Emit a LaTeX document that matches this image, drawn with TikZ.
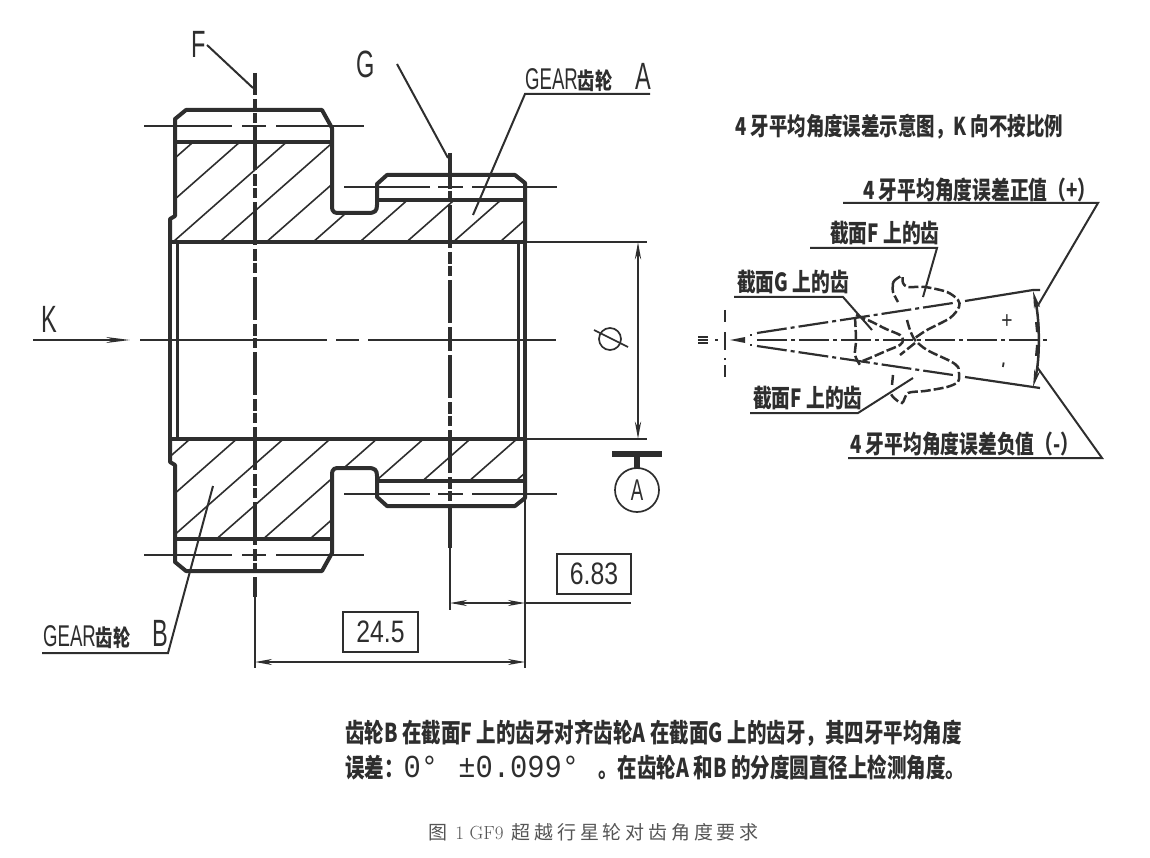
\documentclass[tikz,border=0pt]{standalone}
\usepackage{fontspec}
\usetikzlibrary{arrows.meta}
\newfontfamily\cadfont[FakeStretch=0.62]{Liberation Sans}
\newfontfamily\numfont[FakeStretch=0.8]{Liberation Sans}
\newfontfamily\monofont[FakeStretch=0.9]{Liberation Mono}
\newfontfamily\cjkb[FakeStretch=0.75]{Noto Sans CJK SC}
\newfontfamily\cjkr[LetterSpace=20]{Noto Sans CJK SC}
\definecolor{inkgray}{HTML}{2E2E2E}
\definecolor{capgray}{HTML}{555555}
\tikzset{
  outline/.style={draw=inkgray,line width=4pt,line join=round},
  hatchline/.style={draw=inkgray,line width=1.6pt},
  thinline/.style={draw=inkgray,line width=1.7pt},
  dimline/.style={draw=inkgray,line width=2pt},
  axisline/.style={draw=inkgray,line width=3.2pt,dash pattern=on 43pt off 4pt on 12pt off 2pt on 10pt off 4pt},
  raydash/.style={draw=inkgray,line width=2.2pt,dash pattern=on 30pt off 4pt on 4pt off 4pt},
  toothline/.style={draw=inkgray,line width=2.5pt,dash pattern=on 10pt off 3pt},
  leader/.style={draw=inkgray,line width=2pt},
  dimarrows/.style={{Stealth[length=17pt,width=6pt]}-{Stealth[length=17pt,width=6pt]}},
  lbl/.style={inner sep=0pt,anchor=west,text=inkgray,font=\cjkb\bfseries\fontsize{25}{25}\selectfont},
  bigletter/.style={inner sep=0pt,text=inkgray,font=\cadfont\fontsize{38}{38}\selectfont},
  numbox/.style={draw=inkgray,line width=1.7pt,inner sep=0pt,text=inkgray,font=\numfont\fontsize{31}{31}\selectfont},
  mirrored/.style={shift={(0,681)},yscale=-1}
}
% one half of the section, the other one is mirrored
\newcommand{\hatchbody}[2]{
  \begin{scope}
    \clip (170,242) -- (170,219) -- (175,216) -- (175,142) -- (332,142) -- (332,206)
      .. controls (332,213) and (335,213) .. (340,213) -- (368,213)
      .. controls (375,213) and (377,211) .. (377,205) -- (377,200) -- (525,200) -- (525,242) -- cycle;
    \foreach \k in {-3,...,10}
      \draw[hatchline] ({#1+46.7*\k},242) -- ++(#2,-100);
  \end{scope}
}
\newcommand{\halfbody}{
  % outer profile
  \draw[outline] (170,242) -- (170,219) -- (175,216) -- (175,119) -- (186,110) -- (322,110) -- (332,128) -- (332,206)
    .. controls (332,213) and (335,213) .. (340,213) -- (368,213)
    .. controls (375,213) and (377,211) .. (377,205) -- (377,184) -- (387,175) -- (515,175) -- (525,183) -- (525,242);
  % root lines and bore
  \draw[outline] (175,142) -- (332,142);
  \draw[outline] (377,200) -- (525,200);
  \draw[outline] (170,242) -- (525,242);
  % pitch lines
  \draw[thinline,dash pattern=on 88pt off 10pt on 24pt off 10pt on 90pt] (144,126) -- (364,126);
  \draw[thinline,dash pattern=on 86pt off 8pt on 25pt off 9pt on 85pt] (344,187) -- (557,187);
}
\begin{document}
\begin{tikzpicture}[x=1pt,y=-1pt]
  \useasboundingbox (0,0) rectangle (1150,858);
  % hatching
  \hatchbody{173}{113.6}
  \begin{scope}[mirrored]
    \hatchbody{190}{-113.6}
  \end{scope}
  % body
  \halfbody
  \begin{scope}[mirrored]
    \halfbody
  \end{scope}
  \draw[outline,line width=4.5pt] (170,242) -- (170,439);
  \draw[outline,line width=3pt] (177,242) -- (177,439);
  \draw[outline] (525,242) -- (525,439);
  \draw[outline,line width=3pt] (518,242) -- (518,439);
  % axes
  \draw[axisline,dash phase=21pt] (255,73) -- (255,597);
  \draw[axisline,dash phase=23pt] (450,153) -- (450,548);
  \draw[thinline,line width=2pt,dash pattern=on 187pt off 9pt on 23pt off 9pt on 188pt] (140,340) -- (556,340);
  \draw[thinline,line width=2pt,-{Stealth[length=24pt,width=6pt]}] (33,340) -- (130,340);
  \node[bigletter] (labelK) at (49,319) {K};
  \node[bigletter] (labelF) at (199,44) {F};
  \node[bigletter] (labelG) at (366,64) {G};
  \draw[leader] (207,45) -- (253,88);
  \draw[leader] (397,64) -- (448,158);
  % gear labels
  \node[lbl,font=\cadfont\fontsize{30}{30}\selectfont] (gearA) at (525,78) {GEAR{\cjkb\bfseries\fontsize{23}{23}\selectfont 齿轮}\hspace{23pt}{\fontsize{38}{38}\selectfont A}};
  \draw[leader] (473,215) -- (525,94) -- (650,94);
  \node[lbl,font=\cadfont\fontsize{30}{30}\selectfont] (gearB) at (43,635) {GEAR{\cjkb\bfseries\fontsize{23}{23}\selectfont 齿轮}\hspace{22pt}{\fontsize{38}{38}\selectfont B}};
  \draw[leader] (213,486) -- (168,653) -- (42,653);
  % dimensions
  \draw[thinline] (525,242) -- (647,242);
  \draw[thinline] (525,439) -- (647,439);
  \draw[dimline,dimarrows,line width=2.5pt] (638,242) -- (638,439);
  \node[draw=inkgray,line width=1.7pt,circle,minimum size=22pt,inner sep=0pt] (phisign) at (610,339) {};
  \draw[thinline] (594,330) -- (628,347);
  \draw[dimline,line width=2.5pt] (525,500) -- (525,668);
  \draw[thinline] (255,597) -- (255,668);
  \draw[thinline] (450,548) -- (450,610);
  \draw[dimline,dimarrows] (255,662) -- (525,662);
  \draw[dimline,dimarrows] (450,603) -- (525,603);
  \draw[dimline] (525,603) -- (631,603);
  \node[numbox,minimum width=75pt,minimum height=40pt] (dimB) at (380.5,632) {24.5};
  \node[numbox,minimum width=74pt,minimum height=40pt] (dimA) at (594,574) {6.83};
  % datum
  \draw[outline,line width=5.5pt] (612,454) -- (662,454);
  \draw[outline,line width=5.5pt] (637,454) -- (637,469);
  \node[draw=inkgray,line width=1.7pt,circle,minimum size=44pt,inner sep=0pt,text=inkgray,font=\cadfont\fontsize{30}{30}\selectfont] (datumA) at (637,490) {A};
  % right hand sketch
  \node[lbl,font=\cjkb\bfseries\fontsize{24.6}{25}\selectfont] (sketchtitle) at (735,127) {4 牙平均角度误差示意图，K 向不按比例};
  \node[lbl] (plustext) at (863,190) {4 牙平均角度误差正值（+）};
  \draw[leader] (843,203) -- (1098,203) -- (1037,307);
  \node[lbl] (toothFa) at (830,233) {截面F 上的齿};
  \draw[leader] (810,248) -- (937,248) -- (923,297);
  \node[lbl] (toothG) at (737,282) {截面G 上的齿};
  \draw[leader] (734,297) -- (843,297) -- (872,330);
  \node[lbl] (toothFb) at (753,398) {截面F 上的齿};
  \draw[leader] (750,413) -- (858,413) -- (913,378);
  \node[lbl] (minustext) at (850,444) {4 牙平均角度误差负值（-）};
  \draw[leader] (848,458) -- (1102,458) -- (1037,367);
  % axis and rays
  \draw[raydash] (757,340) -- (1047,340);
  \draw[raydash] (757,333) -- (953,303);
  \draw[raydash] (757,346) -- (953,375);
  \draw[leader,line width=2.2pt] (965,301) -- (1033,290) -- (1040,290);
  \draw[leader,line width=2.2pt] (965,377) -- (1033,387) -- (1040,388);
  \draw[leader,line width=2.5pt,dash pattern=on 12pt off 10pt on 18pt off 8pt on 2pt off 5pt on 12pt] (725,310) -- (725,377);
  \fill[inkgray] (730,340) -- (745,337) -- (745,343) -- cycle;
  \draw[leader,line width=1.5pt] (698,337) -- (708,337);
  \draw[leader,line width=1.5pt] (698,340) -- (708,340);
  \draw[leader,line width=1.5pt] (698,343) -- (708,343);
  \draw[leader] (715,340) -- (718,340);
  \draw[leader] (750,335) -- (752,335);
  \draw[leader] (750,345) -- (752,345);
  % teeth
  \draw[toothline] plot[smooth] coordinates {(856,315) (870,321) (886,329) (900,335) (903,340) (900,345) (886,351) (870,358) (860,362)};
  \draw[toothline] plot[smooth] coordinates {(855,317) (856,340) (855,355) (860,365)};
  \draw[toothline] plot[smooth] coordinates {(893,283) (895,280) (902,276) (903,283) (908,287) (925,287) (947,292) (958,300) (959,307) (950,318) (927,330) (915,338)};
  \draw[toothline] plot[smooth] coordinates {(893,283) (893,292) (898,302)};
  \draw[toothline] plot[smooth] coordinates {(907,320) (910,330) (915,340) (927,350) (950,361) (958,367) (959,375) (958,382) (947,387) (925,391) (908,393) (902,403) (893,397) (890,392)};
  \draw[toothline] plot[smooth] coordinates {(893,375) (892,385)};
  \draw[toothline] (915,343) -- (900,355);
  % angle error arc
  \draw[dimline,line width=2.5pt,dimarrows] (1033,291) .. controls (1040,320) and (1040,360) .. (1033,387);
  \draw[outline,line width=4pt] (1037,322) -- (1038,332);
  \draw[outline,line width=4pt] (1038,345) -- (1037,356);
  \node[inner sep=0pt,text=inkgray,font=\numfont\fontsize{24}{24}\selectfont] (plussign) at (1007,322) {+};
  \node[inner sep=0pt,text=inkgray,rotate=80,font=\numfont\fontsize{24}{24}\selectfont] (minussign) at (1006,366) {-};
  % notes
  \node[lbl,font=\cjkb\bfseries\fontsize{26}{26}\selectfont] (noteone) at (345,733) {齿轮B 在截面F 上的齿牙对齐齿轮A 在截面G 上的齿牙，其四牙平均角度};
  \node[lbl,font=\cjkb\bfseries\fontsize{26}{26}\selectfont] (notetwo) at (345,768) {误差：{\monofont\mdseries\fontsize{32}{32}\selectfont 0°\hspace{20pt}±0.099°}\hspace{19pt}。在齿轮A 和B 的分度圆直径上检测角度。};
  \node[lbl,text=capgray,font=\cjkr\fontsize{19}{19}\selectfont] (captionzh) at (428,832) {图 {\rmfamily 1 GF9} 超越行星轮对齿角度要求};
\end{tikzpicture}
\end{document}
